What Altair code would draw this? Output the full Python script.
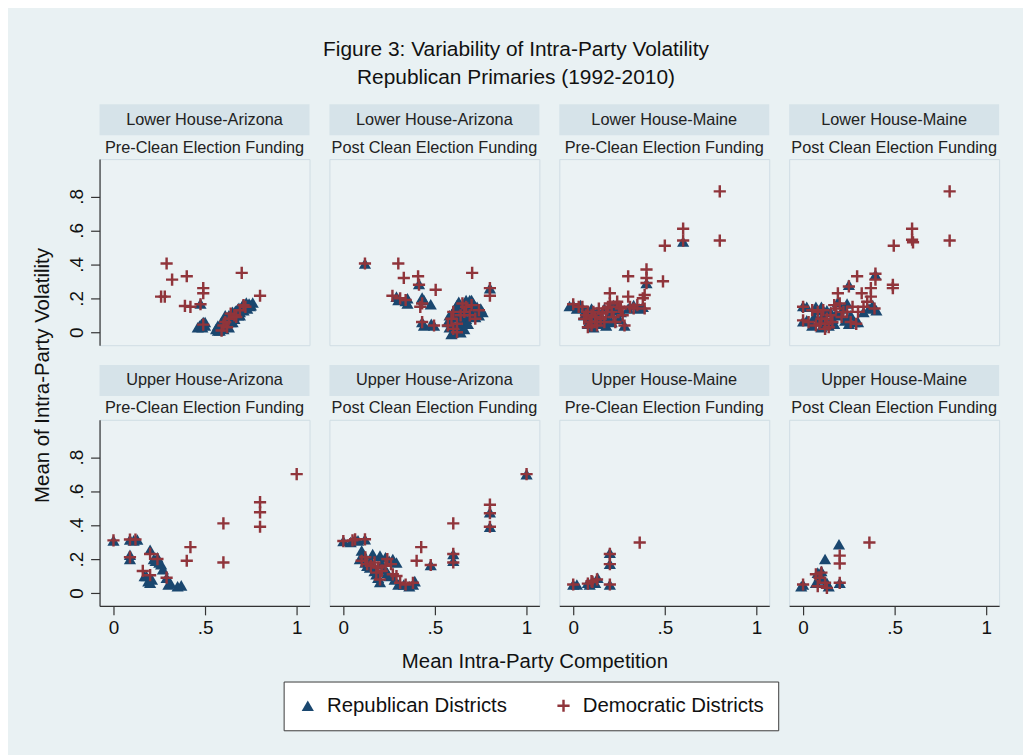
import altair as alt
import pandas as pd

# ---------------- data ----------------
TITLE_LINES = ["Figure 3: Variability of Intra-Party Volatility",
               "Republican Primaries (1992-2010)"]
CHAMBERS = ["Lower House-Arizona", "Lower House-Arizona", "Lower House-Maine", "Lower House-Maine",
            "Upper House-Arizona", "Upper House-Arizona", "Upper House-Maine", "Upper House-Maine"]
PERIODS = ["Pre-Clean Election Funding", "Post Clean Election Funding"] * 4
PARTIES = ["Republican Districts", "Democratic Districts"]
X_TICKS = [0, 0.5, 1]
Y_TICKS = [0, 0.2, 0.4, 0.6, 0.8]
X_TITLE = "Mean Intra-Party Competition"
Y_TITLE = "Mean of Intra-Party Volatility"

# (mean competition, mean volatility)
lh_az_pre_rep = [(0.47, 0.04), (0.49, 0.06), (0.50, 0.04), (0.48, 0.05), (0.475, 0.17),
                 (0.56, 0.02), (0.57, 0.04), (0.58, 0.03), (0.59, 0.06), (0.60, 0.02), (0.60, 0.05),
                 (0.61, 0.08), (0.62, 0.04), (0.62, 0.07), (0.63, 0.10), (0.64, 0.06), (0.64, 0.09),
                 (0.65, 0.12), (0.66, 0.08), (0.66, 0.11), (0.67, 0.13), (0.68, 0.10), (0.68, 0.14),
                 (0.69, 0.12), (0.70, 0.15), (0.71, 0.13), (0.72, 0.16), (0.73, 0.14), (0.74, 0.17),
                 (0.75, 0.16), (0.58, 0.01), (0.63, 0.03),
                 (0.57, 0.01), (0.585, 0.045), (0.595, 0.03), (0.605, 0.065), (0.615, 0.05),
                 (0.625, 0.085), (0.635, 0.07), (0.645, 0.11), (0.655, 0.095), (0.665, 0.125),
                 (0.675, 0.115), (0.685, 0.145), (0.695, 0.135), (0.705, 0.16), (0.715, 0.15),
                 (0.725, 0.175), (0.745, 0.155), (0.76, 0.175), (0.61, 0.10), (0.65, 0.06),
                 (0.69, 0.10), (0.46, 0.03), (0.50, 0.06), (0.485, 0.03)]
lh_az_pre_dem = [(0.29, 0.405), (0.32, 0.31), (0.40, 0.33), (0.26, 0.21), (0.28, 0.21), (0.49, 0.26),
                 (0.49, 0.23), (0.39, 0.155), (0.42, 0.15), (0.475, 0.165), (0.70, 0.35), (0.80, 0.215),
                 (0.49, 0.045), (0.60, 0.04), (0.63, 0.08), (0.66, 0.10), (0.69, 0.13), (0.72, 0.15),
                 (0.59, 0.01), (0.61, 0.06), (0.64, 0.11), (0.67, 0.09), (0.62, 0.03), (0.71, 0.16)]

lh_az_post_rep = [(0.118, 0.405), (0.413, 0.285), (0.29, 0.21), (0.34, 0.185), (0.35, 0.17), (0.43, 0.205),
                  (0.44, 0.19), (0.477, 0.165), (0.43, 0.06), (0.495, 0.04), (0.80, 0.26),
                  (0.58, 0.03), (0.59, 0.06), (0.60, 0.12), (0.61, 0.02), (0.62, 0.09), (0.63, 0.05),
                  (0.64, 0.14), (0.65, 0.11), (0.66, 0.17), (0.67, 0.08), (0.68, 0.13), (0.69, 0.16),
                  (0.70, 0.10), (0.71, 0.14), (0.72, 0.12), (0.73, 0.15), (0.74, 0.10), (0.63, 0.18),
                  (0.66, 0.02), (0.60, 0.00), (0.64, 0.00),
                  (0.57, 0.06), (0.58, 0.10), (0.61, 0.14), (0.62, 0.16), (0.65, 0.06), (0.67, 0.19),
                  (0.70, 0.19), (0.71, 0.17), (0.72, 0.09), (0.73, 0.12), (0.75, 0.14), (0.68, 0.05),
                  (0.62, 0.01), (0.59, -0.01), (0.76, 0.12), (0.69, 0.19), (0.66, 0.13), (0.64, 0.08),
                  (0.44, 0.04), (0.48, 0.05), (0.30, 0.19), (0.35, 0.20)]
lh_az_post_dem = [(0.118, 0.405), (0.30, 0.405), (0.33, 0.32), (0.408, 0.33), (0.413, 0.28), (0.504, 0.25),
                  (0.268, 0.215), (0.34, 0.19), (0.43, 0.17), (0.42, 0.15), (0.703, 0.35), (0.80, 0.26),
                  (0.80, 0.215), (0.43, 0.06), (0.495, 0.04), (0.60, 0.12), (0.67, 0.15), (0.69, 0.10),
                  (0.57, 0.04), (0.62, 0.00), (0.72, 0.08), (0.31, 0.20), (0.65, 0.17), (0.62, 0.05),
                  (0.70, 0.16), (0.66, 0.12), (0.60, 0.02), (0.74, 0.13), (0.64, 0.10), (0.59, 0.08)]

lh_me_pre_rep = [(0.60, 0.535), (0.40, 0.29), (0.0, 0.16), (-0.02, 0.155), (0.28, 0.04), (0.08, 0.05),
                 (0.12, 0.10), (0.16, 0.06), (0.20, 0.12), (0.10, 0.14), (0.22, 0.16), (0.30, 0.14),
                 (0.36, 0.14), (0.25, 0.08), (0.06, 0.10), (0.18, 0.04),
                 (0.02, 0.14), (0.04, 0.16), (0.07, 0.13), (0.09, 0.08), (0.11, 0.03), (0.13, 0.12),
                 (0.15, 0.10), (0.17, 0.14), (0.19, 0.08), (0.21, 0.06), (0.23, 0.13), (0.26, 0.12),
                 (0.33, 0.16), (0.38, 0.15), (0.14, 0.05)]
lh_me_pre_dem = [(0.80, 0.83), (0.80, 0.54), (0.60, 0.61), (0.60, 0.54), (0.50, 0.51), (0.30, 0.33),
                 (0.40, 0.37), (0.40, 0.32), (0.40, 0.29), (0.49, 0.30), (0.39, 0.22), (0.38, 0.20),
                 (0.20, 0.23), (0.30, 0.21), (0.0, 0.165), (0.33, 0.14), (0.39, 0.14), (0.28, 0.04),
                 (0.10, 0.10), (0.12, 0.06), (0.15, 0.08), (0.08, 0.12), (0.18, 0.12), (0.20, 0.17),
                 (0.25, 0.15), (0.27, 0.10), (0.10, 0.04), (0.05, 0.15), (0.14, 0.14), (0.22, 0.09),
                 (0.06, 0.08), (0.03, 0.15), (0.07, 0.10), (0.09, 0.06), (0.11, 0.12), (0.13, 0.04),
                 (0.16, 0.11), (0.17, 0.06), (0.19, 0.15), (0.21, 0.12), (0.24, 0.18), (0.26, 0.14),
                 (0.31, 0.15), (0.35, 0.16), (0.12, 0.09), (0.08, 0.03), (0.23, 0.06)]

lh_me_post_rep = [(0.395, 0.34), (0.25, 0.28), (0.0, 0.155), (0.0, 0.065), (0.07, 0.15), (0.09, 0.065),
                  (0.11, 0.10), (0.13, 0.13), (0.16, 0.08), (0.19, 0.18), (0.22, 0.14), (0.25, 0.05),
                  (0.28, 0.06), (0.33, 0.12), (0.36, 0.14), (0.05, 0.04), (0.14, 0.04), (0.18, 0.11),
                  (0.02, 0.15), (0.02, 0.07), (0.06, 0.09), (0.08, 0.13), (0.10, 0.15), (0.12, 0.07),
                  (0.15, 0.12), (0.17, 0.05), (0.20, 0.10), (0.23, 0.07), (0.26, 0.10), (0.30, 0.06),
                  (0.38, 0.16), (0.40, 0.13), (0.24, 0.17), (0.10, 0.03)]
lh_me_post_dem = [(0.80, 0.83), (0.80, 0.54), (0.595, 0.61), (0.595, 0.545), (0.60, 0.53), (0.495, 0.51),
                  (0.295, 0.33), (0.395, 0.345), (0.395, 0.31), (0.49, 0.28), (0.49, 0.26), (0.32, 0.23),
                  (0.37, 0.26), (0.37, 0.21), (0.19, 0.23), (0.25, 0.27), (0.0, 0.15), (0.0, 0.07),
                  (0.08, 0.12), (0.10, 0.08), (0.12, 0.05), (0.15, 0.10), (0.18, 0.14), (0.20, 0.17),
                  (0.22, 0.12), (0.26, 0.06), (0.30, 0.12), (0.33, 0.15), (0.14, 0.03), (0.07, 0.04),
                  (0.03, 0.06), (0.05, 0.13), (0.09, 0.05), (0.11, 0.13), (0.13, 0.08), (0.16, 0.06),
                  (0.17, 0.16), (0.21, 0.09), (0.24, 0.12), (0.27, 0.15), (0.29, 0.05), (0.35, 0.18),
                  (0.39, 0.14), (0.12, 0.02)]

uh_az_pre_rep = [(0.0, 0.31), (0.09, 0.315), (0.13, 0.315), (0.09, 0.225), (0.09, 0.20), (0.20, 0.255),
                 (0.24, 0.21), (0.26, 0.17), (0.19, 0.07), (0.20, 0.06), (0.29, 0.09), (0.30, 0.05),
                 (0.37, 0.045), (0.22, 0.20), (0.25, 0.18), (0.17, 0.10), (0.11, 0.31), (0.23, 0.19),
                 (0.27, 0.14), (0.21, 0.08), (0.35, 0.04), (0.31, 0.06), (0.18, 0.10)]
uh_az_pre_dem = [(0.0, 0.31), (0.09, 0.315), (0.12, 0.315), (0.09, 0.21), (0.20, 0.23), (0.24, 0.20),
                 (0.16, 0.13), (0.20, 0.105), (0.29, 0.09), (0.40, 0.19), (0.42, 0.27), (0.60, 0.41),
                 (0.60, 0.18), (0.80, 0.535), (0.80, 0.475), (0.80, 0.39), (1.0, 0.70)]

uh_az_post_rep = [(0.0, 0.306), (0.064, 0.316), (0.118, 0.316), (0.09, 0.20), (0.13, 0.16), (0.145, 0.15),
                  (0.18, 0.11), (0.20, 0.065), (0.20, 0.22), (0.25, 0.19), (0.27, 0.20), (0.25, 0.10),
                  (0.30, 0.05), (0.36, 0.04), (0.39, 0.07), (0.477, 0.165), (0.60, 0.23), (0.60, 0.19),
                  (0.80, 0.475), (0.80, 0.39), (1.0, 0.70), (0.22, 0.14), (0.16, 0.23), (0.10, 0.25),
                  (0.11, 0.22), (0.12, 0.18), (0.15, 0.19), (0.17, 0.13), (0.19, 0.09), (0.21, 0.17),
                  (0.23, 0.21), (0.24, 0.12), (0.28, 0.08), (0.29, 0.18), (0.33, 0.05), (0.38, 0.05),
                  (0.04, 0.30), (0.08, 0.31)]
uh_az_post_dem = [(0.0, 0.306), (0.064, 0.316), (0.118, 0.316), (0.10, 0.19), (0.13, 0.17), (0.18, 0.12),
                  (0.20, 0.08), (0.19, 0.15), (0.24, 0.20), (0.27, 0.11), (0.31, 0.06), (0.38, 0.06),
                  (0.40, 0.19), (0.425, 0.27), (0.477, 0.165), (0.60, 0.41), (0.60, 0.23), (0.60, 0.18),
                  (0.80, 0.52), (0.80, 0.47), (0.80, 0.39), (1.0, 0.70), (0.12, 0.21), (0.15, 0.16),
                  (0.17, 0.18), (0.21, 0.13), (0.23, 0.16), (0.26, 0.17), (0.29, 0.10), (0.34, 0.05),
                  (0.05, 0.31)]

uh_me_pre_rep = [(0.0, 0.05), (0.08, 0.06), (0.105, 0.07), (0.133, 0.09), (0.20, 0.237), (0.20, 0.172),
                 (0.20, 0.05), (0.02, 0.05), (0.09, 0.05), (0.12, 0.06)]
uh_me_pre_dem = [(0.0, 0.05), (0.08, 0.055), (0.105, 0.065), (0.13, 0.08), (0.20, 0.23), (0.20, 0.17),
                 (0.20, 0.05), (0.363, 0.297), (0.10, 0.07)]

uh_me_post_rep = [(0.0, 0.05), (-0.01, 0.04), (0.07, 0.06), (0.09, 0.10), (0.10, 0.13), (0.12, 0.20),
                  (0.14, 0.04), (0.196, 0.287), (0.20, 0.06), (0.11, 0.08), (0.08, 0.12), (0.13, 0.06)]
uh_me_post_dem = [(0.0, 0.05), (0.08, 0.04), (0.09, 0.09), (0.10, 0.12), (0.12, 0.06), (0.13, 0.03),
                  (0.20, 0.174), (0.20, 0.22), (0.20, 0.06), (0.362, 0.297), (0.07, 0.11)]

PANEL_DATA = [
    (lh_az_pre_rep, lh_az_pre_dem), (lh_az_post_rep, lh_az_post_dem),
    (lh_me_pre_rep, lh_me_pre_dem), (lh_me_post_rep, lh_me_post_dem),
    (uh_az_pre_rep, uh_az_pre_dem), (uh_az_post_rep, uh_az_post_dem),
    (uh_me_pre_rep, uh_me_pre_dem), (uh_me_post_rep, uh_me_post_dem),
]

# ---------------- style ----------------
W, H = 211, 187
XDOM = [-0.076, 1.07]
YDOM = [-0.076, 1.02]
FONT = "Liberation Sans"
BG = "#E9F1F3"
PLOT_BG = "#EBF2F4"
STRIP = "#D6E3E9"
REP_C = "#1A476F"
DEM_C = "#90353B"
a = 0.2
CROSS = (f"M-1,-{a}L-{a},-{a}L-{a},-1L{a},-1L{a},-{a}L1,-{a}L1,{a}L{a},{a}L{a},1L-{a},1"
         f"L-{a},{a}L-1,{a}Z")
LABEL_EXPR = ("datum.value == 0 ? '0' : (datum.value == 1 ? '1' : "
              "replace(format(datum.value, '.1f'), '0.', '.'))")

legend = alt.Legend(
    title=None, orient="none", legendX=185, legendY=525, direction="horizontal",
    fillColor="white", strokeColor="#3a3a3a", padding=14, labelFontSize=20.5,
    labelFont=FONT, labelColor="#111", symbolSize=150, labelOffset=9, columnPadding=46,
    symbolStrokeWidth=0, labelLimit=400,
)


def panel(i, rep, dem):
    row, col = divmod(i, 4)
    recs = [{"comp": x, "vol": y, "party": PARTIES[0]} for x, y in rep]
    recs += [{"comp": x, "vol": y, "party": PARTIES[1]} for x, y in dem]
    df = pd.DataFrame(recs)

    if row == 1:
        kw = dict(values=X_TICKS, labelExpr=LABEL_EXPR, tickSize=9, labelPadding=4,
                  labelFontSize=19, grid=False)
        if col == 1:
            xaxis = alt.Axis(title=X_TITLE, titleX=206, titleY=56, titleBaseline="middle",
                             titleAnchor="start", titleAlign="center", **kw)
        else:
            xaxis = alt.Axis(title=None, **kw)
    else:
        xaxis = None
    if col == 0:
        kw = dict(values=Y_TICKS, labelExpr=LABEL_EXPR, tickSize=9, labelPadding=4,
                  labelFontSize=19, labelAngle=270, grid=False)
        if row == 0:
            yaxis = alt.Axis(title=Y_TITLE, titleX=-57, titleY=217, titleBaseline="middle",
                             titleAlign="center", titleAngle=270, **kw)
        else:
            yaxis = alt.Axis(title=None, **kw)
    else:
        yaxis = None

    lab = pd.DataFrame({"chamber": [CHAMBERS[i]], "period": [PERIODS[i]]})
    strip = alt.Chart(lab).mark_rect(fill=STRIP).encode(
        x=alt.value(0), x2=alt.value(W), y=alt.value(-55), y2=alt.value(-24))
    strip_txt = alt.Chart(lab).mark_text(font=FONT, fontSize=16.4, color="#222").encode(
        x=alt.value(W / 2), y=alt.value(-39.5), text="chamber:N")
    sub_txt = alt.Chart(lab).mark_text(font=FONT, fontSize=16.4, color="#222").encode(
        x=alt.value(W / 2), y=alt.value(-11.5), text="period:N")

    pts = alt.Chart(df).mark_point(filled=True, opacity=1, size=150).encode(
        x=alt.X("comp:Q", scale=alt.Scale(domain=XDOM, nice=False, zero=False), axis=xaxis),
        y=alt.Y("vol:Q", scale=alt.Scale(domain=YDOM, nice=False, zero=False), axis=yaxis),
        color=alt.Color("party:N", scale=alt.Scale(domain=PARTIES, range=[REP_C, DEM_C]),
                        legend=legend),
        shape=alt.Shape("party:N", scale=alt.Scale(domain=PARTIES, range=["triangle-up", CROSS]),
                        legend=legend),
    )
    return alt.layer(strip, strip_txt, sub_txt, pts).properties(width=W, height=H)


charts = [panel(i, r, d) for i, (r, d) in enumerate(PANEL_DATA)]

chart = alt.concat(*charts, columns=4, spacing={"row": 75, "column": 20}, bounds="flush").properties(
    title=alt.TitleParams(text=TITLE_LINES, font=FONT, fontSize=21, fontWeight="normal",
                          color="#111", anchor="middle", lineHeight=28, offset=16),
    background=BG,
    padding={"left": 24, "top": 29, "right": 23, "bottom": 22},
).configure_view(
    fill=PLOT_BG, stroke="#D0DDE4", strokeWidth=1
).configure_axis(
    domainColor="#333", tickColor="#333", labelColor="#111", titleColor="#111",
    labelFont=FONT, titleFont=FONT, titleFontSize=20.5, titleFontWeight="normal",
    domainWidth=1.2, tickWidth=1.2,
)

chart.save("out.html", embed_options={"renderer": "svg", "actions": False})
